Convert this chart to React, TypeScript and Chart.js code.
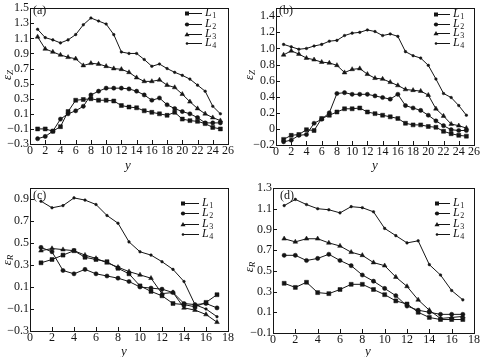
import React, { useEffect, useRef } from "react";
import { Chart, registerables } from "chart.js";
Chart.register(...registerables);

const FONT = "'Liberation Serif', 'Times New Roman', serif";
const INK = "#151515";

// x positions (y coordinate on the sample)
const posAB = [1, 2, 3, 4, 5, 6, 7, 8, 9, 10, 11, 12, 13, 14, 15, 16, 17, 18, 19, 20, 21, 22, 23, 24, 25];
const posCD = [1, 2, 3, 4, 5, 6, 7, 8, 9, 10, 11, 12, 13, 14, 15, 16, 17];

// (a) epsilon_Z
const aL1 = [-0.10, -0.10, -0.13, -0.07, 0.13, 0.28, 0.29, 0.30, 0.28, 0.28, 0.27, 0.21, 0.19, 0.18, 0.14, 0.12, 0.10, 0.08, 0.12, 0.03, 0.01, 0.00, -0.03, -0.08, -0.10];
const aL2 = [-0.23, -0.20, -0.13, 0.03, 0.10, 0.14, 0.20, 0.35, 0.40, 0.44, 0.44, 0.44, 0.43, 0.40, 0.35, 0.28, 0.31, 0.22, 0.17, 0.13, 0.10, 0.05, -0.02, -0.02, -0.02];
const aL3 = [1.12, 0.96, 0.92, 0.88, 0.85, 0.83, 0.74, 0.77, 0.76, 0.73, 0.70, 0.69, 0.65, 0.58, 0.53, 0.53, 0.55, 0.48, 0.45, 0.36, 0.26, 0.17, 0.10, 0.05, 0.01];
const aL4 = [1.22, 1.11, 1.08, 1.04, 1.08, 1.15, 1.28, 1.37, 1.33, 1.29, 1.15, 0.92, 0.90, 0.90, 0.82, 0.73, 0.76, 0.70, 0.65, 0.61, 0.56, 0.48, 0.40, 0.20, 0.10];

// (b) epsilon_Z
const bL1 = [-0.13, -0.08, -0.07, -0.01, -0.02, 0.13, 0.17, 0.21, 0.25, 0.25, 0.26, 0.21, 0.19, 0.17, 0.15, 0.13, 0.07, 0.05, 0.05, 0.03, 0.02, -0.03, -0.06, -0.08, -0.09];
const bL2 = [-0.16, -0.14, -0.08, -0.07, 0.07, 0.12, 0.20, 0.44, 0.45, 0.43, 0.43, 0.43, 0.41, 0.39, 0.37, 0.43, 0.29, 0.26, 0.23, 0.17, 0.10, 0.04, -0.01, -0.02, -0.02];
const bL3 = [0.92, 0.97, 0.93, 0.88, 0.86, 0.83, 0.82, 0.79, 0.70, 0.74, 0.75, 0.68, 0.63, 0.62, 0.58, 0.54, 0.49, 0.48, 0.47, 0.42, 0.25, 0.16, 0.06, 0.04, 0.01];
const bL4 = [1.05, 1.02, 0.99, 1.00, 1.03, 1.05, 1.09, 1.10, 1.16, 1.19, 1.20, 1.23, 1.21, 1.16, 1.18, 1.15, 0.96, 0.91, 0.88, 0.79, 0.62, 0.44, 0.39, 0.29, 0.17];

// (c) epsilon_R
const cL1 = [0.32, 0.35, 0.39, 0.43, 0.37, 0.35, 0.33, 0.27, 0.22, 0.11, 0.06, 0.02, -0.05, -0.06, -0.08, -0.04, 0.03];
const cL2 = [0.46, 0.42, 0.25, 0.22, 0.26, 0.22, 0.20, 0.18, 0.15, 0.10, 0.09, 0.08, 0.05, -0.05, -0.06, -0.05, -0.09];
const cL3 = [0.43, 0.45, 0.44, 0.43, 0.39, 0.36, 0.32, 0.28, 0.24, 0.21, 0.18, 0.04, 0.05, -0.09, -0.11, -0.15, -0.22];
const cL4 = [0.88, 0.82, 0.84, 0.91, 0.89, 0.85, 0.75, 0.68, 0.51, 0.42, 0.39, 0.33, 0.26, 0.15, -0.06, -0.10, -0.17];

// (d) epsilon_R
const dL1 = [0.38, 0.34, 0.39, 0.29, 0.28, 0.32, 0.37, 0.37, 0.32, 0.27, 0.21, 0.18, 0.10, 0.05, 0.03, 0.03, 0.03];
const dL2 = [0.65, 0.65, 0.60, 0.62, 0.66, 0.60, 0.55, 0.46, 0.40, 0.33, 0.26, 0.16, 0.12, 0.10, 0.08, 0.08, 0.08];
const dL3 = [0.81, 0.78, 0.81, 0.81, 0.77, 0.74, 0.68, 0.65, 0.58, 0.55, 0.44, 0.35, 0.22, 0.12, 0.04, 0.05, 0.06];
const dL4 = [1.13, 1.19, 1.14, 1.10, 1.09, 1.06, 1.12, 1.11, 1.07, 0.91, 0.84, 0.77, 0.79, 0.56, 0.46, 0.31, 0.22];

// tick labels
const xTicksAB = [0, 2, 4, 6, 8, 10, 12, 14, 16, 18, 20, 22, 24, 26];
const xTicksCD = [0, 2, 4, 6, 8, 10, 12, 14, 16, 18];
const yTicksA = [-0.3, -0.1, 0.1, 0.3, 0.5, 0.7, 0.9, 1.1, 1.3, 1.5];
const yTicksB = [-0.2, 0, 0.2, 0.4, 0.6, 0.8, 1.0, 1.2, 1.4];
const yTicksC = [-0.3, -0.1, 0.1, 0.3, 0.5, 0.7, 0.9];
const yTicksD = [-0.1, 0.1, 0.3, 0.5, 0.7, 0.9, 1.1, 1.3];

const seriesNames = ["1", "2", "3", "4"];
const pointStyles = ["rect", "circle", "triangle", "circle"];
const pointRadii = [2.8, 2.1, 2.7, 1.3];

const fmtY = (v: number) => {
  if (Math.abs(v) < 1e-9) return "0";
  const s = v.toFixed(1);
  return s.replace("-", "\u2212");
};

type Panel = {
  left: number; top: number; w: number; h: number;
  plot: { left: number; right: number; top: number; bottom: number };
  xMax: number; yMin: number; yMax: number;
  xTicks: number[]; yTicks: number[];
  xs: number[]; series: number[][];
  sub: string; label: string;
  xTitle: [number, number]; yTitle: [number, number]; labelPos: [number, number];
  legendX: number; legendTextX: number; legendRows: number[];
};

const panels: Panel[] = [
  {
    left: 0, top: 0, w: 240, h: 178,
    plot: { left: 30, right: 228, top: 3, bottom: 144 },
    xMax: 26, yMin: -0.3, yMax: 1.5, xTicks: xTicksAB, yTicks: yTicksA,
    xs: posAB, series: [aL1, aL2, aL3, aL4], sub: "Z", label: "(a)",
    xTitle: [128, 166], yTitle: [8, 75], labelPos: [33, 11],
    legendX: 187, legendTextX: 205, legendRows: [13, 24, 34, 43],
  },
  {
    left: 240, top: 0, w: 240, h: 178,
    plot: { left: 36, right: 237, top: 5, bottom: 145 },
    xMax: 26, yMin: -0.2, yMax: 1.5, xTicks: xTicksAB, yTicks: yTicksB,
    xs: posAB, series: [bL1, bL2, bL3, bL4], sub: "Z", label: "(b)",
    xTitle: [135, 166], yTitle: [10, 75], labelPos: [39, 11],
    legendX: 196, legendTextX: 213, legendRows: [14, 24, 33, 43],
  },
  {
    left: 0, top: 178, w: 240, h: 179,
    plot: { left: 30, right: 228, top: 10, bottom: 153 },
    xMax: 18, yMin: -0.3, yMax: 1.0, xTicks: xTicksCD, yTicks: yTicksC,
    xs: posCD, series: [cL1, cL2, cL3, cL4], sub: "R", label: "(c)",
    xTitle: [124, 174], yTitle: [8, 82], labelPos: [33, 18],
    legendX: 183, legendTextX: 202, legendRows: [25, 35, 46, 56],
  },
  {
    left: 240, top: 178, w: 240, h: 179,
    plot: { left: 33, right: 237, top: 10, bottom: 155 },
    xMax: 18, yMin: -0.1, yMax: 1.3, xTicks: xTicksCD, yTicks: yTicksD,
    xs: posCD, series: [dL1, dL2, dL3, dL4], sub: "R", label: "(d)",
    xTitle: [128, 174], yTitle: [10, 89], labelPos: [40, 18],
    legendX: 197, legendTextX: 213, legendRows: [25, 35, 46, 56],
  },
];

function drawMarker(ctx: CanvasRenderingContext2D, kind: number, x: number, y: number) {
  ctx.fillStyle = INK;
  ctx.beginPath();
  if (kind === 0) {
    ctx.rect(x - 2, y - 2, 4, 4);
  } else if (kind === 1) {
    ctx.arc(x, y, 2.1, 0, Math.PI * 2);
  } else if (kind === 2) {
    ctx.moveTo(x, y - 2.6);
    ctx.lineTo(x + 2.5, y + 1.8);
    ctx.lineTo(x - 2.5, y + 1.8);
    ctx.closePath();
  } else {
    ctx.arc(x, y, 1.3, 0, Math.PI * 2);
  }
  ctx.fill();
}

function PanelChart({ p }: { p: Panel }) {
  const ref = useRef<HTMLCanvasElement | null>(null);
  useEffect(() => {
    if (!ref.current) return;
    const deco = {
      id: "deco",
      afterDraw(chart: any) {
        const ctx: CanvasRenderingContext2D = chart.ctx;
        const a = chart.chartArea;
        const xs = chart.scales.x;
        const ys = chart.scales.y;
        ctx.save();
        ctx.strokeStyle = INK;
        ctx.lineWidth = 1;
        ctx.strokeRect(Math.round(a.left) + 0.5, Math.round(a.top) + 0.5, Math.round(a.right - a.left), Math.round(a.bottom - a.top));
        ctx.beginPath();
        p.xTicks.forEach((v) => {
          const px = Math.round(xs.getPixelForValue(v)) + 0.5;
          ctx.moveTo(px, a.bottom);
          ctx.lineTo(px, a.bottom - 4);
        });
        p.yTicks.forEach((v) => {
          const py = Math.round(ys.getPixelForValue(v)) + 0.5;
          ctx.moveTo(a.left, py);
          ctx.lineTo(a.left + 4, py);
        });
        ctx.stroke();

        // panel label
        ctx.fillStyle = INK;
        ctx.font = `12px ${FONT}`;
        ctx.textAlign = "left";
        ctx.textBaseline = "middle";
        ctx.fillText(p.label, p.labelPos[0], p.labelPos[1]);

        // x title
        ctx.font = `italic 13px ${FONT}`;
        ctx.textAlign = "center";
        ctx.fillText("y", p.xTitle[0], p.xTitle[1]);

        // y title with subscript
        ctx.save();
        ctx.translate(p.yTitle[0], p.yTitle[1]);
        ctx.rotate(-Math.PI / 2);
        ctx.font = `italic 13px ${FONT}`;
        const w1 = ctx.measureText("\u03B5").width;
        ctx.font = `italic 9px ${FONT}`;
        const w2 = ctx.measureText(p.sub).width;
        const start = -(w1 + w2) / 2;
        ctx.textAlign = "left";
        ctx.font = `italic 13px ${FONT}`;
        ctx.fillText("\u03B5", start, 0);
        ctx.font = `italic 9px ${FONT}`;
        ctx.fillText(p.sub, start + w1, 3);
        ctx.restore();

        // legend
        p.legendRows.forEach((ry, i) => {
          ctx.strokeStyle = INK;
          ctx.lineWidth = 1;
          ctx.beginPath();
          ctx.moveTo(p.legendX, ry + 0.5);
          ctx.lineTo(p.legendTextX - 3, ry + 0.5);
          ctx.stroke();
          drawMarker(ctx, i, p.legendX, ry + 0.5);
          ctx.fillStyle = INK;
          ctx.textAlign = "left";
          ctx.textBaseline = "middle";
          ctx.font = `italic 12px ${FONT}`;
          ctx.fillText("L", p.legendTextX, ry);
          const lw = ctx.measureText("L").width;
          ctx.font = `8px ${FONT}`;
          ctx.fillText(seriesNames[i], p.legendTextX + lw + 0.5, ry + 3);
        });
        ctx.restore();
      },
    };

    const chart = new Chart(ref.current, {
      type: "line",
      data: {
        datasets: p.series.map((vals, i) => ({
          label: "L" + seriesNames[i],
          data: vals.map((v, k) => ({ x: p.xs[k], y: v })),
          borderColor: INK,
          borderWidth: 1,
          backgroundColor: INK,
          pointStyle: pointStyles[i] as any,
          pointRadius: pointRadii[i],
          pointBackgroundColor: INK,
          pointBorderColor: INK,
          pointBorderWidth: 0.5,
          tension: 0,
          fill: false,
        })),
      },
      options: {
        responsive: false,
        animation: false,
        devicePixelRatio: 1,
        layout: {
          autoPadding: false,
          padding: { left: 0, top: p.plot.top, right: p.w - p.plot.right, bottom: 0 },
        } as any,
        plugins: { legend: { display: false }, tooltip: { enabled: false } },
        scales: {
          x: {
            type: "linear",
            min: 0,
            max: p.xMax,
            grid: { display: false, drawTicks: false, tickLength: 0 },
            border: { display: false },
            afterBuildTicks: (s: any) => { s.ticks = p.xTicks.map((v) => ({ value: v })); },
            afterFit: (s: any) => { s.height = p.h - p.plot.bottom; },
            ticks: {
              autoSkip: false,
              maxRotation: 0,
              padding: 0,
              color: INK,
              font: { family: FONT, size: 12 },
              callback: (v: any) => String(v),
            },
          },
          y: {
            type: "linear",
            min: p.yMin,
            max: p.yMax,
            grid: { display: false, drawTicks: false, tickLength: 0 },
            border: { display: false },
            afterBuildTicks: (s: any) => { s.ticks = p.yTicks.map((v) => ({ value: v })); },
            afterFit: (s: any) => { s.width = p.plot.left; },
            ticks: {
              autoSkip: false,
              padding: 1,
              color: INK,
              font: { family: FONT, size: 12 },
              callback: (v: any) => fmtY(Number(v)),
            },
          },
        },
      },
      plugins: [deco],
    } as any);
    return () => chart.destroy();
  }, [p]);

  return (
    <div style={{ position: "absolute", left: p.left, top: p.top, width: p.w, height: p.h }}>
      <canvas ref={ref} width={p.w} height={p.h} style={{ width: p.w, height: p.h, display: "block" }} />
    </div>
  );
}

export default function App() {
  return (
    <div style={{ position: "fixed", left: 0, top: 0, width: 480, height: 357, background: "#fff", overflow: "hidden" }}>
      {panels.map((p) => (
        <PanelChart key={p.label} p={p} />
      ))}
    </div>
  );
}
